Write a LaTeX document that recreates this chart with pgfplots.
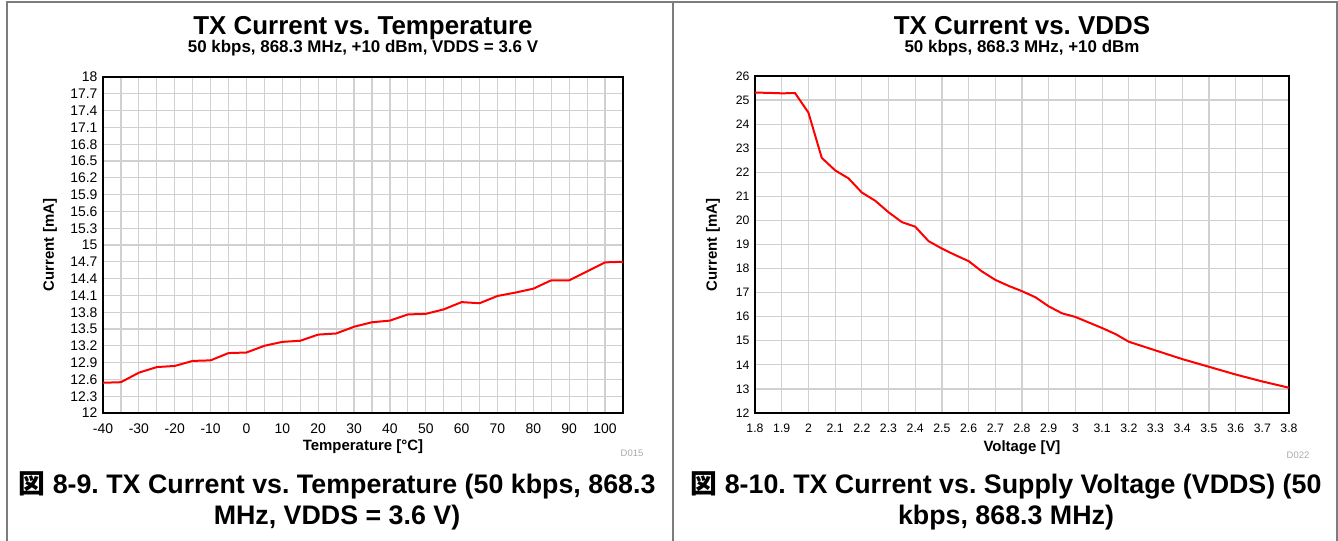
\documentclass[border=0pt]{standalone}
\usepackage{fontspec}
\setmainfont{Liberation Sans}
\newfontfamily\cjk{Noto Sans CJK JP}
\usepackage{pgfplots}
\pgfplotsset{compat=1.18}
\definecolor{gridc}{RGB}{208,208,208}
\definecolor{framec}{RGB}{125,125,125}
\definecolor{codec}{RGB}{170,170,170}
\frenchspacing
\pgfplotsset{
  tiplot/.style={
    scale only axis,
    anchor=south west,
    grid=both,
    major grid style={gridc, line width=1.2bp},
    minor grid style={gridc, line width=1.2bp},
    axis line style={black, line width=2.6bp},
    major tick length=0pt, minor tick length=0pt,
    /pgf/number format/assume math mode=true,
    tick label style={font=\fontsize{14}{16}\selectfont},
    xticklabel style={yshift=-7.5bp},
    yticklabel style={xshift=-2bp},
  }
}
\begin{document}
\begin{tikzpicture}
\path[use as bounding box] (0bp,0bp) rectangle (1338bp,541bp);
\draw[framec, line width=1.5bp] (7bp,0bp) -- (7bp,539bp) -- (1337bp,539bp) -- (1337bp,0bp);
\draw[framec, line width=1.5bp] (673bp,539bp) -- (673bp,0bp);

% ---------- left chart ----------
\begin{axis}[tiplot,
  at={(103bp,128bp)}, width=520bp, height=336bp,
  xmin=-40, xmax=105, ymin=12, ymax=18,
  xtick={-40,-30,-20,-10,0,10,20,30,40,50,60,70,80,90,100},
  xticklabels={-40,-30,-20,-10,0,10,20,30,40,50,60,70,80,90,100},
  minor xtick={-35,-25,-15,-5,5,15,25,35,45,55,65,75,85,95},
  ytick={12,12.3,12.6,12.9,13.2,13.5,13.8,14.1,14.4,14.7,15,15.3,15.6,15.9,16.2,16.5,16.8,17.1,17.4,17.7,18},
  yticklabels={12,12.3,12.6,12.9,13.2,13.5,13.8,14.1,14.4,14.7,15,15.3,15.6,15.9,16.2,16.5,16.8,17.1,17.4,17.7,18},
]
\addplot[red, line width=2bp] coordinates {
(-40,12.54) (-35,12.55) (-30,12.72) (-25,12.82) (-20,12.84) (-15,12.93)
(-10,12.94) (-5,13.07) (0,13.08) (5,13.20) (10,13.27) (15,13.29)
(20,13.40) (25,13.42) (30,13.54) (35,13.62) (40,13.65) (45,13.76)
(50,13.77) (55,13.85) (60,13.98) (65,13.96) (70,14.09) (75,14.15)
(80,14.22) (85,14.37) (90,14.37) (95,14.53) (100,14.69) (105,14.70)
};
\end{axis}

% ---------- right chart ----------
\begin{axis}[tiplot,
  at={(755bp,128bp)}, width=534bp, height=337bp,
  xmin=1.8, xmax=3.8, ymin=12, ymax=26,
  tick label style={font=\fontsize{12.3}{14}\selectfont},
  xtick={1.8,1.9,2.0,2.1,2.2,2.3,2.4,2.5,2.6,2.7,2.8,2.9,3.0,3.1,3.2,3.3,3.4,3.5,3.6,3.7,3.8},
  xticklabels={1.8,1.9,2,2.1,2.2,2.3,2.4,2.5,2.6,2.7,2.8,2.9,3,3.1,3.2,3.3,3.4,3.5,3.6,3.7,3.8},
  ytick={12,13,14,15,16,17,18,19,20,21,22,23,24,25,26},
  yticklabels={12,13,14,15,16,17,18,19,20,21,22,23,24,25,26},
]
\addplot[red, line width=2bp] coordinates {
(1.8,25.31) (1.85,25.30) (1.9,25.28) (1.95,25.29) (2.0,24.48) (2.05,22.60)
(2.1,22.08) (2.15,21.75) (2.2,21.16) (2.25,20.82) (2.3,20.34) (2.35,19.93)
(2.4,19.74) (2.45,19.14) (2.5,18.83) (2.55,18.56) (2.6,18.31) (2.65,17.88)
(2.7,17.53) (2.75,17.28) (2.8,17.06) (2.85,16.81) (2.9,16.43) (2.95,16.14)
(3.0,15.99) (3.05,15.76) (3.1,15.53) (3.15,15.28) (3.2,14.96) (3.3,14.60)
(3.4,14.24) (3.5,13.92) (3.6,13.60) (3.7,13.31) (3.8,13.05)
};
\end{axis}

% ---------- titles ----------
\node[anchor=base, font=\bfseries\fontsize{26}{28}\selectfont, inner sep=0] at (363bp,506bp) {TX Current vs. Temperature};
\node[anchor=base, font=\bfseries\fontsize{17}{19}\selectfont, inner sep=0] at (363bp,488bp) {50 kbps, 868.3 MHz, +10 dBm, VDDS = 3.6 V};
\node[anchor=base, font=\bfseries\fontsize{26}{28}\selectfont, inner sep=0] at (1022bp,506bp) {TX Current vs. VDDS};
\node[anchor=base, font=\bfseries\fontsize{17}{19}\selectfont, inner sep=0] at (1022bp,488bp) {50 kbps, 868.3 MHz, +10 dBm};

% ---------- axis labels ----------
\node[font=\bfseries\fontsize{15}{18}\selectfont, inner sep=0] at (363bp,94bp) {Temperature [°C]};
\node[font=\bfseries\fontsize{15}{18}\selectfont, inner sep=0, rotate=90] at (50bp,296bp) {Current [mA]};
\node[font=\bfseries\fontsize{15}{18}\selectfont, inner sep=0] at (1022bp,93bp) {Voltage [V]};
\node[font=\bfseries\fontsize{15}{18}\selectfont, inner sep=0, rotate=90] at (713bp,296bp) {Current [mA]};
\node[font=\fontsize{9.5}{11}\selectfont, text=codec, inner sep=0] at (632bp,88bp) {D015};
\node[font=\fontsize{9.5}{11}\selectfont, text=codec, inner sep=0] at (1298bp,86bp) {D022};

% ---------- captions ----------
\node[anchor=base, font=\bfseries\fontsize{26.9}{30}\selectfont, inner sep=0] at (337bp,47bp) {{\cjk\bfseries 図} 8-9. TX Current vs. Temperature (50 kbps, 868.3};
\node[anchor=base, font=\bfseries\fontsize{26.9}{30}\selectfont, inner sep=0] at (337bp,17bp) {MHz, VDDS = 3.6 V)};
\node[anchor=base, font=\bfseries\fontsize{26.9}{30}\selectfont, inner sep=0] at (1006bp,47bp) {{\cjk\bfseries 図} 8-10. TX Current vs. Supply Voltage (VDDS) (50};
\node[anchor=base, font=\bfseries\fontsize{26.9}{30}\selectfont, inner sep=0] at (1006bp,17bp) {kbps, 868.3 MHz)};
\end{tikzpicture}
\end{document}
